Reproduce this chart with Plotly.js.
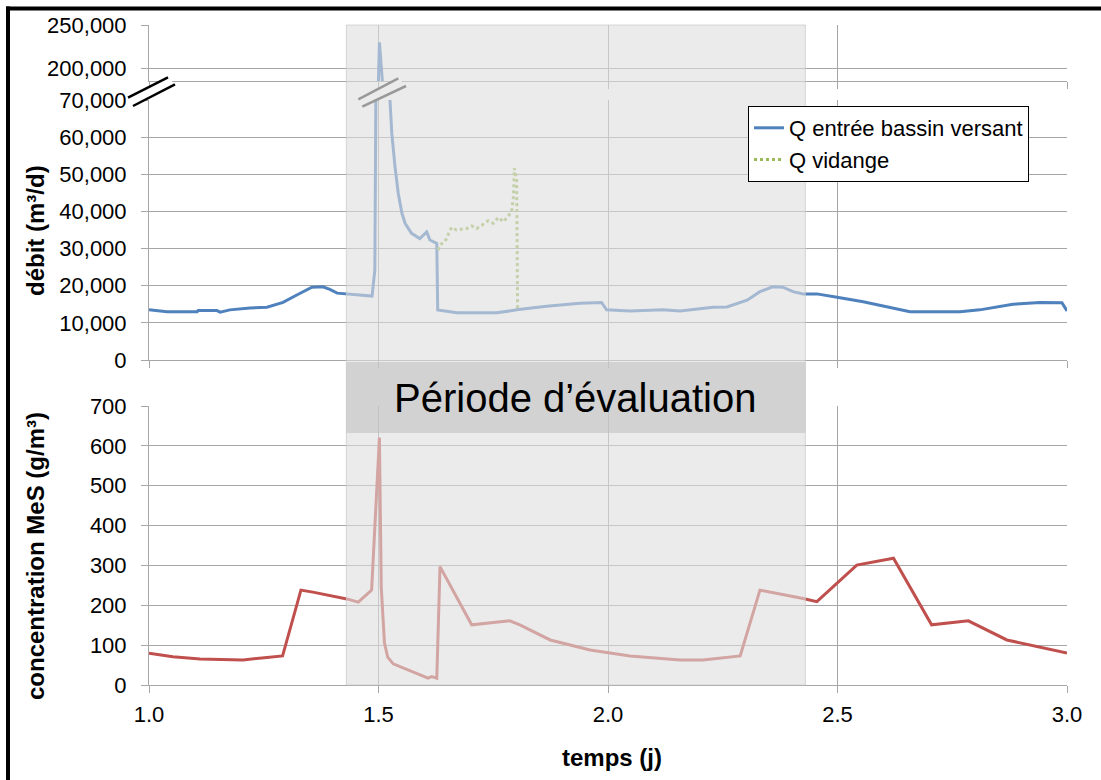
<!DOCTYPE html>
<html>
<head>
<meta charset="utf-8">
<script src="https://cdn.plot.ly/plotly-3.0.1.min.js"></script>
<style>
  html, body { margin: 0; padding: 0; background: #ffffff; }
  #chart { width: 1101px; height: 780px; }
</style>
</head>
<body>
<div id="chart"></div>
<script>
// ---- Data ----
const qTemps = [1.000, 1.039, 1.105, 1.107, 1.148, 1.155, 1.176, 1.220, 1.257, 1.292, 1.322, 1.355, 1.379, 1.394, 1.410, 1.431, 1.475, 1.486, 1.492, 1.502, 1.525, 1.529, 1.536, 1.543, 1.551, 1.558, 1.572, 1.590, 1.605, 1.612, 1.627, 1.629, 1.656, 1.670, 1.758, 1.801, 1.866, 1.939, 1.986, 1.997, 2.048, 2.120, 2.157, 2.229, 2.259, 2.303, 2.331, 2.359, 2.381, 2.403, 2.425, 2.455, 2.499, 2.556, 2.658, 2.767, 2.810, 2.882, 2.941, 2.989, 3.000];
const qEntree = [13500, 13000, 13000, 13300, 13300, 12900, 13500, 14000, 14200, 15500, 17500, 19600, 19700, 19000, 18000, 17800, 17200, 17200, 24200, 230000, 70000, 61000, 52000, 44900, 39500, 36800, 34100, 32700, 34500, 32300, 31400, 13500, 13000, 12700, 12700, 13500, 14500, 15300, 15500, 13500, 13200, 13500, 13200, 14200, 14300, 16100, 18400, 19700, 19600, 18400, 17800, 17800, 16900, 15700, 13000, 13000, 13500, 15000, 15500, 15400, 13200];

const vidTemps = [1.630, 1.634, 1.645, 1.659, 1.670, 1.681, 1.692, 1.703, 1.714, 1.725, 1.739, 1.750, 1.761, 1.772, 1.783, 1.790, 1.794, 1.796, 1.801, 1.802, 1.803];
const qVidange = [29600, 31000, 31900, 35700, 35000, 35200, 35400, 36100, 35400, 36300, 37500, 36800, 38400, 37200, 39000, 39900, 44000, 51600, 48500, 38600, 13600];

const mesTemps = [1.000, 1.052, 1.111, 1.161, 1.205, 1.257, 1.291, 1.331, 1.357, 1.431, 1.456, 1.485, 1.502, 1.506, 1.513, 1.520, 1.532, 1.608, 1.616, 1.627, 1.634, 1.703, 1.743, 1.786, 1.808, 1.874, 1.961, 2.048, 2.157, 2.207, 2.288, 2.331, 2.425, 2.455, 2.542, 2.622, 2.705, 2.785, 2.869, 2.948, 3.000];
const mesConc = [80, 71, 65, 63, 63, 69, 73, 238, 233, 216, 208, 238, 621, 245, 105, 70, 53, 17, 21, 17, 297, 151, 155, 161, 151, 113, 88, 73, 63, 63, 73, 238, 217, 209, 301, 318, 151, 161, 113, 92, 80];

const periode = [1.43, 2.43];
const seriesNames = ['Q entrée bassin versant', 'Q vidange'];
const yTitleDebit = 'débit (m³/d)';
const yTitleConc = 'concentration MeS (g/m³)';
const xTitle = 'temps (j)';
const periodeLabel = 'Période d’évaluation';

// ---- Styling ----
const FONT = 'Arial, "Liberation Sans", "DejaVu Sans", sans-serif';
const GRID = '#a6a6a6';
const BLUE = '#4f81bd';
const GREEN = '#9bbb59';
const RED = '#c0504d';

const traces = [
  { x: qTemps, y: qEntree, xaxis: 'x2', yaxis: 'y2', type: 'scatter', mode: 'lines',
    name: seriesNames[0], legendgroup: 'a', line: { color: BLUE, width: 3 } },
  { x: vidTemps, y: qVidange, xaxis: 'x2', yaxis: 'y2', type: 'scatter', mode: 'lines',
    name: seriesNames[1], legendgroup: 'b', line: { color: GREEN, width: 3, dash: 'dot' } },
  { x: qTemps, y: qEntree, xaxis: 'x3', yaxis: 'y3', type: 'scatter', mode: 'lines',
    name: seriesNames[0], showlegend: false, line: { color: BLUE, width: 3 } },
  { x: mesTemps, y: mesConc, xaxis: 'x', yaxis: 'y', type: 'scatter', mode: 'lines',
    name: 'MeS', showlegend: false, line: { color: RED, width: 3 } }
];

const xCommon = {
  range: [1, 3], tick0: 1, dtick: 0.5, tickformat: '.1f',
  showgrid: true, gridcolor: GRID, gridwidth: 1, zeroline: false,
  showline: true, linecolor: GRID, linewidth: 1,
  ticks: 'outside', ticklen: 7, tickcolor: GRID, ticklabelstandoff: 3,
  tickfont: { family: FONT, size: 22, color: '#000' }
};
const yCommon = {
  showgrid: true, gridcolor: GRID, gridwidth: 1, zeroline: false,
  showline: true, linecolor: GRID, linewidth: 1,
  ticks: 'outside', ticklen: 7, tickcolor: GRID, tickformat: ',d',
  ticklabelstandoff: 10,
  tickfont: { family: FONT, size: 22, color: '#000' }
};

// pixel helpers for decorations (paper coords)
const PL = 149, PR = 1067, PT = 25, PB = 685;
const px = v => (v - PL) / (PR - PL);
const py = v => (PB - v) / (PB - PT);

function breakMark(a1, a2, b1, b2, col) {
  return [
    { type: 'path', xref: 'paper', yref: 'paper', layer: 'above',
      path: `M ${px(a1[0])} ${py(a1[1])} L ${px(a2[0])} ${py(a2[1])} L ${px(b2[0])} ${py(b2[1])} L ${px(b1[0])} ${py(b1[1])} Z`,
      fillcolor: '#ffffff', line: { width: 0 } },
    { type: 'line', xref: 'paper', yref: 'paper', layer: 'above',
      x0: px(a1[0]), y0: py(a1[1]), x1: px(a2[0]), y1: py(a2[1]), line: { color: col, width: 2.5 } },
    { type: 'line', xref: 'paper', yref: 'paper', layer: 'above',
      x0: px(b1[0]), y0: py(b1[1]), x1: px(b2[0]), y1: py(b2[1]), line: { color: col, width: 2.5 } }
  ];
}

const shapes = [].concat(
  breakMark([128, 97.7], [168, 77.3], [133, 106], [175, 84.3], '#000'),
  breakMark([358.3, 99.3], [398.3, 78.3], [362.3, 106.7], [406, 86], '#333'),
  [
    { type: 'rect', xref: 'x', yref: 'paper', layer: 'above',
      x0: periode[0], x1: periode[1], y0: 0, y1: 1,
      fillcolor: 'rgba(222,222,222,0.6)', line: { color: 'rgba(200,200,200,0.7)', width: 1 } },
    { type: 'rect', xref: 'x', yref: 'paper', layer: 'above',
      x0: periode[0], x1: periode[1], y0: py(433), y1: py(362),
      fillcolor: 'rgba(190,190,190,0.55)', line: { width: 0 } },
    // outer frame (left & top)
    { type: 'line', xref: 'paper', yref: 'paper', layer: 'above',
      x0: px(8), x1: px(8), y0: py(790), y1: py(6.5), line: { color: '#000', width: 4 } },
    { type: 'line', xref: 'paper', yref: 'paper', layer: 'above',
      x0: px(6), x1: px(1110), y0: py(8.5), y1: py(8.5), line: { color: '#000', width: 4 } }
  ]
);

const layout = {
  width: 1101, height: 780,
  margin: { l: 149, r: 34, t: 25, b: 95 },
  paper_bgcolor: '#ffffff', plot_bgcolor: '#ffffff',
  font: { family: FONT, color: '#000' },
  showlegend: true,
  legend: {
    x: px(748), y: py(106), xanchor: 'left', yanchor: 'top',
    bgcolor: '#ffffff', bordercolor: '#000', borderwidth: 1,
    font: { family: FONT, size: 22, color: '#000' },
    traceorder: 'grouped', tracegroupgap: 0
  },
  xaxis: Object.assign({}, xCommon, { anchor: 'y', domain: [0, 1] }),
  xaxis2: Object.assign({}, xCommon, { anchor: 'y2', matches: 'x', showticklabels: false }),
  xaxis3: Object.assign({}, xCommon, { anchor: 'y3', matches: 'x', showticklabels: false }),
  yaxis: Object.assign({}, yCommon, { anchor: 'x', domain: [0, py(406)], range: [0, 700], dtick: 100 }),
  yaxis2: Object.assign({}, yCommon, { anchor: 'x2', domain: [py(360), py(100)], range: [0, 70000], dtick: 10000 }),
  yaxis3: Object.assign({}, yCommon, { anchor: 'x3', domain: [py(81), 1], range: [185600, 250000],
    tickmode: 'array', tickvals: [200000, 250000] }),
  shapes: shapes,
  annotations: [
    { text: periodeLabel, xref: 'x', yref: 'paper', x: 1.928, y: py(398),
      xanchor: 'center', yanchor: 'middle', showarrow: false,
      font: { family: FONT, size: 40, color: '#000' } },
    { text: '<b>' + yTitleDebit + '</b>', xref: 'paper', yref: 'paper', x: px(35), y: py(231),
      textangle: -90, xanchor: 'center', yanchor: 'middle', showarrow: false,
      font: { family: FONT, size: 24, color: '#000' } },
    { text: '<b>' + yTitleConc + '</b>', xref: 'paper', yref: 'paper', x: px(35), y: py(556),
      textangle: -90, xanchor: 'center', yanchor: 'middle', showarrow: false,
      font: { family: FONT, size: 24, color: '#000' } },
    { text: '<b>' + xTitle + '</b>', xref: 'paper', yref: 'paper', x: px(612), y: py(757),
      xanchor: 'center', yanchor: 'middle', showarrow: false,
      font: { family: FONT, size: 24, color: '#000' } }
  ]
};

Plotly.newPlot('chart', traces, layout, { displayModeBar: false, staticPlot: true });
</script>
</body>
</html>
